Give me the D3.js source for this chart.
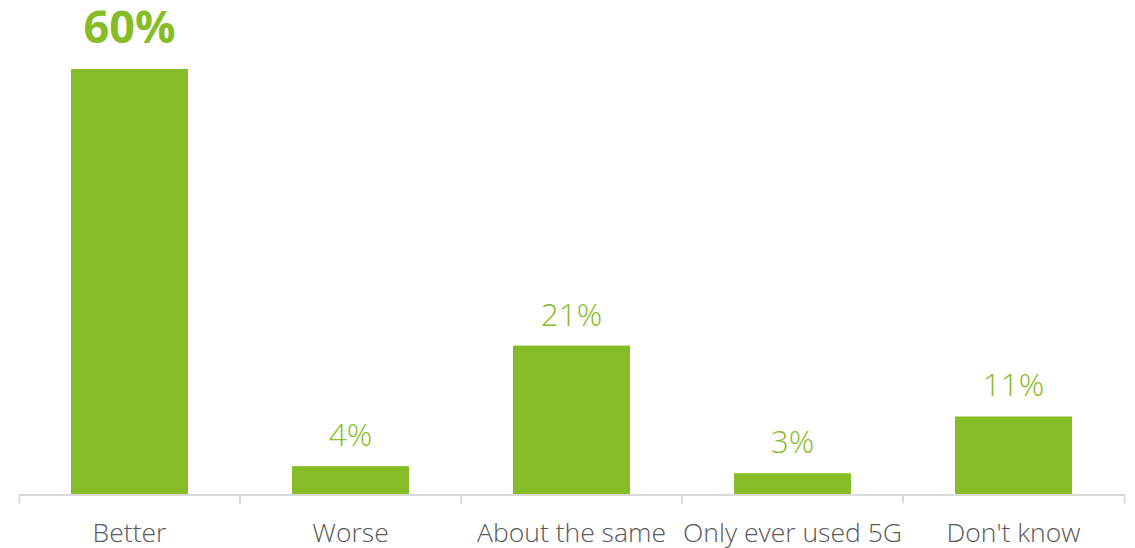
<!DOCTYPE html>
<html><head><meta charset="utf-8">
<script src="https://cdn.jsdelivr.net/npm/d3@7"></script>
<style>body{margin:0;background:#fff}svg{display:block}</style>
</head><body>
<svg id="c" width="1135" height="548"></svg>
<script>
const categories = ["Better","Worse","About the same","Only ever used 5G","Don't know"];
const values = [60,4,21,3,11];
const labels = ["60%","4%","21%","3%","11%"];
const highlight = [true,false,false,false,false];

(function(){
const svg = d3.select("#c");
const plotLeft = 19, plotRight = 1124, base = 494.5, plotTop = 69;
const x = d3.scaleBand().domain(categories).range([plotLeft,plotRight]).paddingInner(0).paddingOuter(0);
const y = d3.scaleLinear().domain([0,60]).range([base, plotTop]);
const barW = 117;
const green = "#86bc25";

svg.selectAll("rect.bar").data(categories).enter().append("rect")
  .attr("x", d => x(d) + (x.bandwidth()-barW)/2)
  .attr("y", (d,i) => y(values[i]))
  .attr("width", barW)
  .attr("height", (d,i) => base - y(values[i]))
  .attr("fill", green);

const ax = svg.append("g").attr("transform", `translate(0,${base})`)
  .call(d3.axisBottom(x).tickSizeInner(0).tickSizeOuter(9).tickPadding(0));
ax.select(".domain").attr("stroke","#d9d9d9").attr("stroke-width",2);
ax.selectAll(".tick line").remove();
ax.selectAll(".tick text").remove();
const bounds = categories.slice(1).map(d => x(d));
ax.selectAll("line.b").data(bounds).enter().append("line")
  .attr("x1", d => d).attr("x2", d => d).attr("y1", 0).attr("y2", 9)
  .attr("stroke","#d9d9d9").attr("stroke-width",2);

svg.selectAll("text.cat").data(categories).enter().append("text")
  .attr("x", d => x(d) + x.bandwidth()/2)
  .attr("y", 542)
  .attr("text-anchor","middle")
  .attr("font-family","'Open Sans', sans-serif")
  .attr("font-weight",300)
  .attr("font-size",26.5)
  .attr("fill","#595959")
  .text(d => d);

svg.selectAll("text.val").data(categories).enter().append("text")
  .attr("x", d => x(d) + x.bandwidth()/2)
  .attr("y", (d,i) => y(values[i]) - (highlight[i] ? 26 : 20))
  .attr("text-anchor","middle")
  .attr("font-family","'Open Sans', sans-serif")
  .attr("font-weight",(d,i) => highlight[i] ? 700 : 300)
  .attr("font-size",(d,i) => highlight[i] ? 45 : 31.5)
  .attr("fill",green)
  .text((d,i) => labels[i]);
})();
</script>
</body></html>
